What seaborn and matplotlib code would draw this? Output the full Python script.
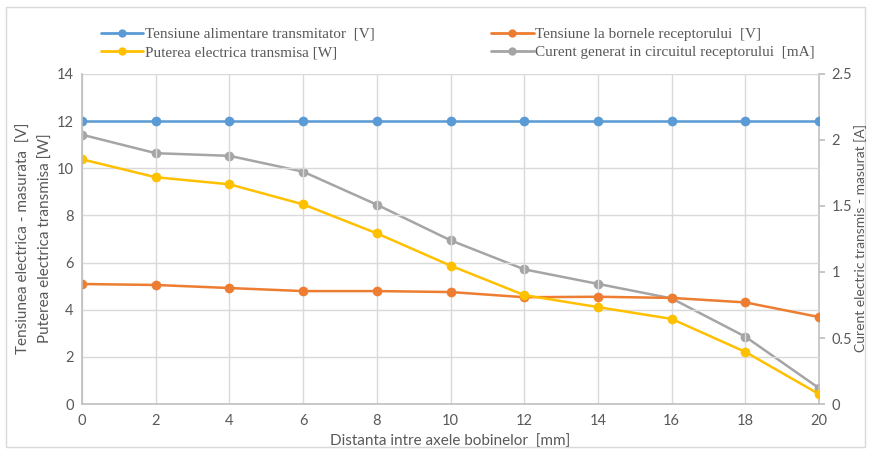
import matplotlib
matplotlib.use("Agg")
import matplotlib.pyplot as plt
import seaborn as sns
import pandas as pd
from matplotlib.lines import Line2D

# ---- data ----
distance = [0, 2, 4, 6, 8, 10, 12, 14, 16, 18, 20]
tensiune_alim = [12, 12, 12, 12, 12, 12, 12, 12, 12, 12, 12]
tensiune_rec = [5.09, 5.05, 4.92, 4.79, 4.79, 4.75, 4.53, 4.55, 4.50, 4.31, 3.69]
putere = [10.38, 9.62, 9.32, 8.47, 7.24, 5.87, 4.62, 4.11, 3.61, 2.21, 0.42]
curent = [2.04, 1.90, 1.88, 1.76, 1.51, 1.24, 1.02, 0.91, 0.80, 0.51, 0.12]

names = ["Tensiune alimentare transmitator  [V]",
         "Tensiune la bornele receptorului  [V]",
         "Puterea electrica transmisa [W]",
         "Curent generat in circuitul receptorului  [mA]"]
colors = ["#5B9BD5", "#ED7D31", "#FFC000", "#A5A5A5"]
x_ticks = [0, 2, 4, 6, 8, 10, 12, 14, 16, 18, 20]
left_ticks = [0, 2, 4, 6, 8, 10, 12, 14]
right_ticks = [0, 0.5, 1, 1.5, 2, 2.5]
right_labels = ["0", "0.5", "1", "1.5", "2", "2.5"]

sns.set_theme(style="white")
plt.rcParams['font.family'] = ['Lato', 'DejaVu Sans']

txt = "#595959"
gridc = "#D9D9D9"
spinec = "#BFBFBF"

left_df = pd.DataFrame({
    "x": distance * 3,
    "y": tensiune_alim + tensiune_rec + putere,
    "s": [names[0]] * 11 + [names[1]] * 11 + [names[2]] * 11,
})
right_df = pd.DataFrame({"x": distance, "y": curent})

fig = plt.figure(figsize=(8.69, 4.5), dpi=100)
ax = fig.add_axes([0.0944, 0.1022, 0.8481, 0.7334])
ax2 = ax.twinx()

sns.lineplot(data=left_df, x="x", y="y", hue="s", palette=colors[:3],
             marker="o", markersize=7, markeredgewidth=0, linewidth=1.8,
             ax=ax, legend=False)
sns.lineplot(data=right_df, x="x", y="y", color=colors[3],
             marker="o", markersize=7, markeredgewidth=0, linewidth=1.8,
             ax=ax2, legend=False)

ax.set_zorder(ax2.get_zorder() + 1)
ax.patch.set_visible(False)

ax.set_xlim(0, 20)
ax.set_ylim(0, 14)
ax2.set_ylim(0, 2.5)
ax.set_xticks(x_ticks)
ax.set_yticks(left_ticks)
ax2.set_yticks(right_ticks)
ax2.set_yticklabels(right_labels)

ax.grid(True, color=gridc, linewidth=1)
ax.set_axisbelow(True)
ax2.grid(False)

for a in (ax, ax2):
    for s in a.spines.values():
        s.set_visible(False)
ax.spines["left"].set_visible(True)
ax.spines["bottom"].set_visible(True)
ax2.spines["right"].set_visible(True)
for s in (ax.spines["left"], ax.spines["bottom"], ax2.spines["right"]):
    s.set_color(spinec)
    s.set_linewidth(1.2)

ax.tick_params(axis="both", colors=txt, labelsize=10.5, length=0, pad=6)
ax.tick_params(axis="x", pad=7)
ax2.tick_params(axis="y", colors=txt, labelsize=10.5, length=4, color=spinec, pad=5)

ax.set_xlabel("Distanta intre axele bobinelor  [mm]", color=txt, fontsize=11, labelpad=5)
ax.set_ylabel("")
ax2.set_ylabel("")

fig.text(0.027, 0.47, "Tensiunea electrica - masurata  [V]", rotation=90,
         color=txt, fontsize=11, ha="center", va="center")
fig.text(0.053, 0.47, "Puterea electrica transmisa [W]", rotation=90,
         color=txt, fontsize=11, ha="center", va="center")
fig.text(0.99, 0.47, "Curent electric transmis - masurat [A]", rotation=90,
         color=txt, fontsize=10, ha="center", va="center")

handles = [Line2D([0], [0], color=c, marker="o", markersize=6, markeredgewidth=0,
                  linewidth=2) for c in colors]
order = [0, 2, 1, 3]
leg = fig.legend([handles[i] for i in order], [names[i] for i in order],
                 ncol=2, loc="upper left", bbox_to_anchor=(0.1, 0.97),
                 frameon=False, handlelength=2.8, handletextpad=0.1,
                 columnspacing=7.6, labelspacing=0.3,
                 prop={"family": "Liberation Serif", "size": 11})
for t in leg.get_texts():
    t.set_color(txt)

fig.patches.append(plt.Rectangle((0.007, 0.006), 0.988, 0.978, transform=fig.transFigure,
                                 fill=False, edgecolor="#D9D9D9", linewidth=1))

fig.savefig("out.png", dpi=100)
